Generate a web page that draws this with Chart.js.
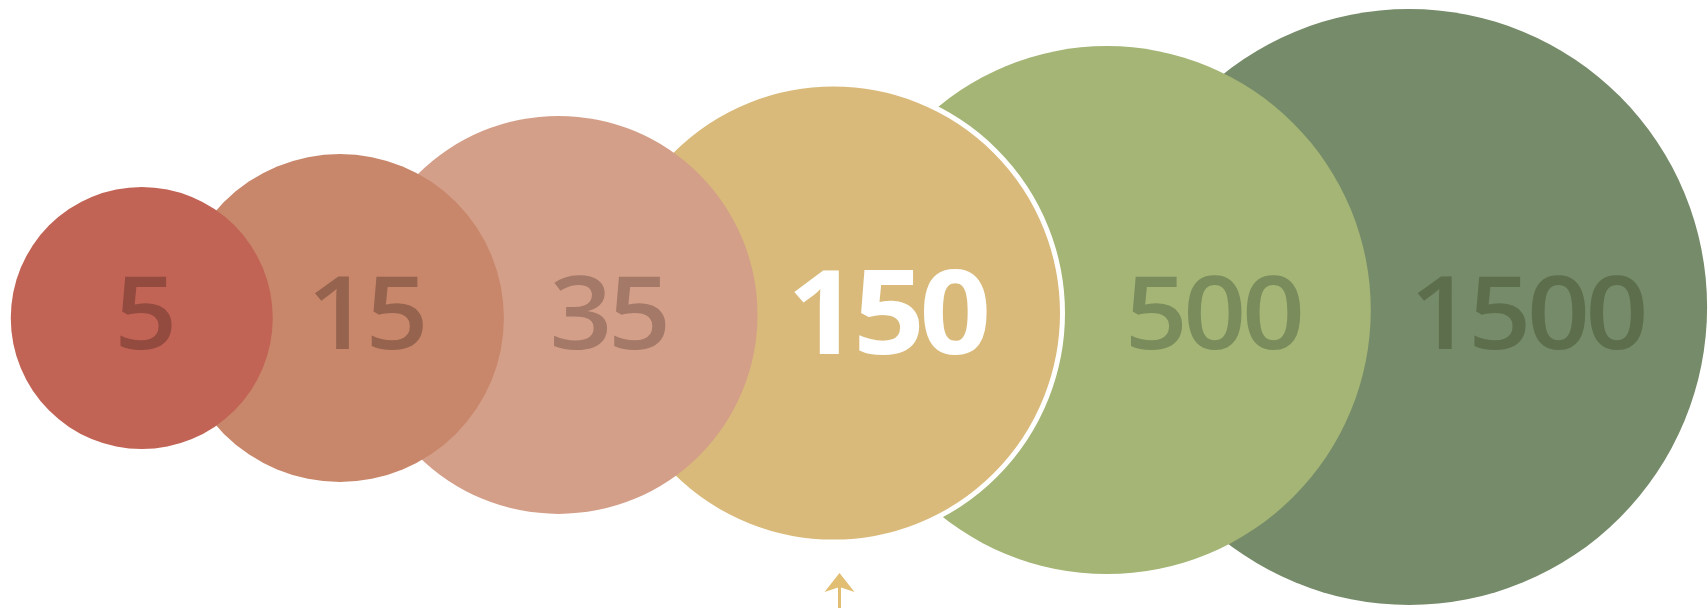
<!DOCTYPE html>
<html>
<head>
<meta charset="utf-8">
<script src="https://cdn.jsdelivr.net/npm/chart.js@4.4.1/dist/chart.umd.min.js"></script>
<style>
    html, body { margin: 0; padding: 0; background: #ffffff; }
    #wrap { width: 1708px; height: 608px; position: relative; }
</style>
</head>
<body>
<div id="wrap"><canvas id="chartBubbles"></canvas></div>
<script>
// values shown in each circle
const labels = ['5', '15', '35', '150', '500', '1500'];
// circle centres on a 0-100 grid
const centerX = [8.3, 19.9, 32.7, 48.8, 64.8, 82.5];
const centerY = [47.7, 47.7, 48.2, 48.5, 49.0, 49.5];
const radius = [131, 164, 199, 229, 264, 298];
// where the number sits in each circle
const labelX = [8.4, 21.4, 35.6, 51.9, 71.0, 89.4];
const labelY = 48.2;
const highlightIndex = 3;

const fillColors = ['#c26455', '#c8876b', '#d49f89', '#d9ba7a', '#a4b576', '#768b69'];
const textColors = ['#934a3f', '#96644e', '#a47967', '#ffffff', '#7b8c5c', '#5d6e4c'];
const arrowColor = '#e2be72';

const labelPlugin = {
    id: 'bubbleLabels',
    afterDatasetsDraw(chart) {
        const ctx = chart.ctx;
        const xs = chart.scales.x;
        const ys = chart.scales.y;
        labels.forEach((text, i) => {
            const big = i === highlightIndex;
            ctx.save();
            ctx.textAlign = 'center';
            ctx.textBaseline = 'middle';
            ctx.font = big ? '700 116px "Open Sans"' : '600 102px "Open Sans"';
            ctx.letterSpacing = big ? '-5px' : '-4px';
            ctx.fillStyle = textColors[i];
            ctx.translate(xs.getPixelForValue(labelX[i]), ys.getPixelForValue(labelY) + (big ? 6 : 5));
            ctx.scale(1.08, 1);
            ctx.fillText(text, 0, 0);
            ctx.restore();
        });

        // little arrow under the highlighted circle
        const meta = chart.getDatasetMeta(highlightIndex);
        const el = meta.data[0];
        const ax = el.x + 6;
        const top = el.y + radius[highlightIndex] + 31;
        ctx.save();
        ctx.fillStyle = arrowColor;
        ctx.strokeStyle = arrowColor;
        ctx.lineWidth = 3;
        ctx.beginPath();
        ctx.moveTo(ax, top + 8);
        ctx.lineTo(ax, chart.height);
        ctx.stroke();
        ctx.beginPath();
        ctx.moveTo(ax, top);
        ctx.lineTo(ax + 15, top + 19);
        ctx.lineTo(ax, top + 14);
        ctx.lineTo(ax - 15, top + 19);
        ctx.closePath();
        ctx.fill();
        ctx.restore();
    }
};

const datasets = labels.map((label, i) => ({
    label: label,
    data: [{x: centerX[i], y: centerY[i], r: radius[i]}],
    backgroundColor: fillColors[i],
    borderColor: i === highlightIndex ? '#ffffff' : fillColors[i],
    borderWidth: i === highlightIndex ? 5 : 0,
    hoverRadius: 0,
    clip: false
}));

new Chart(document.getElementById('chartBubbles').getContext('2d'), {
    type: 'bubble',
    data: {datasets: datasets},
    options: {
        responsive: true,
        maintainAspectRatio: false,
        animation: false,
        events: [],
        layout: {padding: 0, autoPadding: false},
        scales: {
            x: {type: 'linear', min: 0, max: 100, display: false},
            y: {type: 'linear', min: 0, max: 100, display: false}
        },
        plugins: {
            legend: {display: false},
            tooltip: {enabled: false}
        }
    },
    plugins: [labelPlugin]
});
</script>
</body>
</html>
